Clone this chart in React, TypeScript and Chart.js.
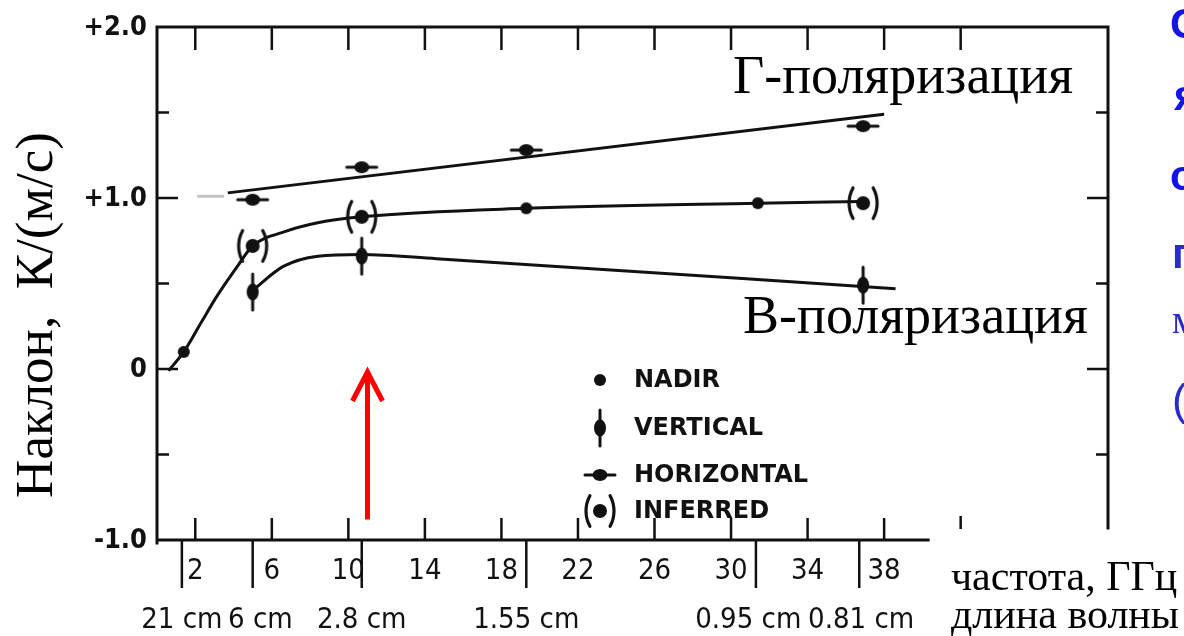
import React, { useEffect, useRef } from "react";
import { Chart, registerables } from "chart.js";

Chart.register(...registerables);

const W = 1184;
const H = 636;

// Axis ranges (frequency GHz, slope K/(m/s))
const X_MIN = 0;
const X_MAX = 49.7;
const Y_MIN = -1;
const Y_MAX = 2;

const yMajorTicks = [2, 1, 0, -1];
const yTickLabels = ["+2.0", "+1.0", "0", "-1.0"];
const yMinorTicks = [1.5, 0.5, -0.5];
const freqTicks = [2, 6, 10, 14, 18, 22, 26, 30, 34, 38];
const freqTickLabels = ["2", "6", "10", "14", "18", "22", "26", "30", "34", "38"];
const topExtraTicks = [42];
const waveFreqs = [1.3, 5.0, 10.7, 19.3, 31.3, 36.7];
const waveLabelFreqs = [1.3, 5.4, 10.7, 19.3, 30.9, 36.8];
const waveLabels = ["21 cm", "6 cm", "2.8 cm", "1.55 cm", "0.95 cm", "0.81 cm"];

// Fitted curves
const hLineX = [3.7, 38.0];
const hLineY = [1.03, 1.49];
const ghostX = [2.1, 3.5];
const ghostY = [1.01, 1.01];
const midCurveX = [0.6, 1.4, 2.3, 3.1, 4.2, 5.0, 6.6, 8.4, 10.7, 19.3, 31.4, 36.9];
const midCurveY = [-0.01, 0.1, 0.27, 0.42, 0.6, 0.72, 0.8, 0.855, 0.89, 0.94, 0.97, 0.98];
const vCurveX = [5.0, 6.6, 8.4, 10.7, 14.6, 38.6];
const vCurveY = [0.46, 0.6, 0.66, 0.67, 0.645, 0.47];

// Measured points
const nadirX = [1.4, 19.3, 31.4];
const nadirY = [0.1, 0.94, 0.97];
const vertX = [5.0, 10.7, 36.9];
const vertY = [0.45, 0.66, 0.49];
const horzX = [5.0, 10.7, 19.3, 36.9];
const horzY = [0.99, 1.18, 1.28, 1.42];
const infX = [5.0, 10.7, 36.9];
const infY = [0.72, 0.89, 0.97];

const legendNames = ["NADIR", "VERTICAL", "HORIZONTAL", "INFERRED"];
const legendKinds = ["nadir", "vertical", "horizontal", "inferred"];

// Red arrow (frequency, slope values)
const arrowX = 11.0;
const arrowFromY = -0.88;
const arrowToY = 0.0;

// Frame extents in data values
const frameRightEndY = -0.93;
const frameBottomEndX = 40.3;

const zip = (xs: number[], ys: number[]) => xs.map((v, i) => ({ x: v, y: ys[i] }));

function makeMarker(kind: string): HTMLCanvasElement {
  const c = document.createElement("canvas");
  const s = 40;
  c.width = s;
  c.height = s;
  const g = c.getContext("2d")!;
  g.translate(s / 2, s / 2);
  g.fillStyle = "#111";
  g.strokeStyle = "#111";
  g.lineCap = "round";
  if (kind === "nadir") {
    g.beginPath();
    g.arc(0, 0, 6, 0, Math.PI * 2);
    g.fill();
  } else if (kind === "vertical") {
    g.lineWidth = 3;
    g.beginPath();
    g.moveTo(0, -18);
    g.lineTo(0, 18);
    g.stroke();
    g.beginPath();
    g.ellipse(0, 0, 6, 8.5, 0, 0, Math.PI * 2);
    g.fill();
  } else if (kind === "horizontal") {
    g.lineWidth = 3;
    g.beginPath();
    g.moveTo(-15, 0);
    g.lineTo(15, 0);
    g.stroke();
    g.beginPath();
    g.ellipse(0, 0, 7.5, 6, 0, 0, Math.PI * 2);
    g.fill();
  } else if (kind === "inferred") {
    g.beginPath();
    g.arc(0, 0, 7, 0, Math.PI * 2);
    g.fill();
    g.lineWidth = 3.2;
    const a = 0.5;
    g.beginPath();
    g.arc(18, 0, 32, Math.PI - a, Math.PI + a);
    g.stroke();
    g.beginPath();
    g.arc(-18, 0, 32, -a, a);
    g.stroke();
  }
  return c;
}

const TICK_FONT = '29px "DejaVu Sans Condensed", "DejaVu Sans", sans-serif';
const YTICK_FONT = 'bold 27px "DejaVu Sans Condensed", "DejaVu Sans", sans-serif';
const LEGEND_FONT = 'bold 24px "DejaVu Sans", sans-serif';
const SERIF = '"Liberation Serif", "Times New Roman", serif';

export default function App() {
  const ref = useRef<HTMLCanvasElement | null>(null);

  useEffect(() => {
    const canvas = ref.current;
    if (!canvas) return;
    const markers: Record<string, HTMLCanvasElement> = {};
    legendKinds.forEach((k) => (markers[k] = makeMarker(k)));

    const decor = {
      id: "decor",
      beforeDatasetsDraw(chart: any) {
        const { ctx } = chart;
        const xs = chart.scales.x;
        const ys = chart.scales.y;
        const px = (v: number) => xs.getPixelForValue(v);
        const py = (v: number) => ys.getPixelForValue(v);
        ctx.save();
        ctx.strokeStyle = "#111";
        ctx.lineWidth = 3;
        ctx.lineCap = "square";
        // frame
        ctx.beginPath();
        ctx.moveTo(px(X_MIN), py(Y_MIN) + 3);
        ctx.lineTo(px(X_MIN), py(Y_MAX));
        ctx.lineTo(px(X_MAX), py(Y_MAX));
        ctx.lineTo(px(X_MAX), py(frameRightEndY));
        ctx.moveTo(px(X_MIN), py(Y_MIN));
        ctx.lineTo(px(frameBottomEndX), py(Y_MIN));
        ctx.stroke();

        ctx.lineCap = "butt";
        ctx.lineWidth = 2.5;
        ctx.beginPath();
        // left & right y ticks
        yMajorTicks.forEach((v) => {
          if (v === Y_MAX || v === Y_MIN) return;
          ctx.moveTo(px(X_MIN), py(v));
          ctx.lineTo(px(X_MIN) + 21, py(v));
          ctx.moveTo(px(X_MAX), py(v));
          ctx.lineTo(px(X_MAX) - 21, py(v));
        });
        yMinorTicks.forEach((v) => {
          ctx.moveTo(px(X_MIN), py(v));
          ctx.lineTo(px(X_MIN) + 12, py(v));
          ctx.moveTo(px(X_MAX), py(v));
          ctx.lineTo(px(X_MAX) - 12, py(v));
        });
        // top ticks
        [...freqTicks, ...topExtraTicks].forEach((f) => {
          ctx.moveTo(px(f), py(Y_MAX));
          ctx.lineTo(px(f), py(Y_MAX) + 23);
        });
        // bottom ticks
        freqTicks.forEach((f) => {
          ctx.moveTo(px(f), py(Y_MIN));
          ctx.lineTo(px(f), py(Y_MIN) - 22);
        });
        // stub of the next bottom tick
        topExtraTicks.forEach((f) => {
          ctx.moveTo(px(f), py(Y_MIN) - 24);
          ctx.lineTo(px(f), py(Y_MIN) - 11);
        });
        // wavelength markers
        waveFreqs.forEach((f) => {
          ctx.moveTo(px(f), py(Y_MIN));
          ctx.lineTo(px(f), py(Y_MIN) + 48);
        });
        ctx.stroke();
        ctx.restore();
      },
      afterDraw(chart: any) {
        const { ctx } = chart;
        const xs = chart.scales.x;
        const ys = chart.scales.y;
        const px = (v: number) => xs.getPixelForValue(v);
        const py = (v: number) => ys.getPixelForValue(v);
        ctx.save();
        ctx.fillStyle = "#111";
        // y tick labels
        ctx.font = YTICK_FONT;
        ctx.textAlign = "right";
        ctx.textBaseline = "middle";
        yMajorTicks.forEach((v, i) => ctx.fillText(yTickLabels[i], px(X_MIN) - 10, py(v) + 1));
        // x tick labels
        ctx.font = TICK_FONT;
        ctx.textAlign = "center";
        freqTicks.forEach((f, i) => ctx.fillText(freqTickLabels[i], px(f), py(Y_MIN) + 31));
        waveLabelFreqs.forEach((f, i) => ctx.fillText(waveLabels[i], px(f), py(Y_MIN) + 80));

        // legend
        const legX = 600;
        const legYs = [380, 428, 475, 511];
        ctx.font = LEGEND_FONT;
        ctx.textAlign = "left";
        legendKinds.forEach((k, i) => {
          const m = markers[k];
          ctx.drawImage(m, legX - m.width / 2, legYs[i] - m.height / 2);
          ctx.fillText(legendNames[i], 634, legYs[i] + 1);
        });

        // red arrow
        const ax = px(arrowX);
        const ay0 = py(arrowFromY);
        const ay1 = py(arrowToY);
        ctx.strokeStyle = "#ff0000";
        ctx.lineWidth = 5;
        ctx.lineCap = "butt";
        ctx.beginPath();
        ctx.moveTo(ax, ay0);
        ctx.lineTo(ax, ay1 + 3);
        ctx.stroke();
        ctx.lineJoin = "miter";
        ctx.beginPath();
        ctx.moveTo(ax - 15, ay1 + 32);
        ctx.lineTo(ax, ay1 + 3);
        ctx.lineTo(ax + 15, ay1 + 32);
        ctx.stroke();

        // annotations
        ctx.fillStyle = "#000";
        ctx.textBaseline = "alphabetic";
        ctx.textAlign = "left";
        ctx.font = `54px ${SERIF}`;
        ctx.fillText("Г-поляризация", 733, 93);
        ctx.fillText("В-поляризация", 743, 333);

        ctx.save();
        ctx.font = `53px ${SERIF}`;
        ctx.translate(52, 315);
        ctx.rotate(-Math.PI / 2);
        ctx.textAlign = "center";
        ctx.fillText("Наклон,  К/(м/с)", 0, 0);
        ctx.restore();

        ctx.font = `42px ${SERIF}`;
        ctx.fillText("частота, ГГц", 951, 590);
        ctx.fillText("длина волны", 951, 628);

        // cut-off blue text on the right edge
        ctx.fillStyle = "#1414e6";
        ctx.font = `bold 42px "Liberation Sans", Arial, sans-serif`;
        ctx.fillText("С", 1170, 38);
        ctx.fillText("я", 1174, 110);
        ctx.fillText("о", 1170, 190);
        ctx.fillStyle = "#2a2ad0";
        ctx.fillText("п", 1172, 268);
        ctx.font = `40px ${SERIF}`;
        ctx.fillText("м", 1172, 333);
        ctx.font = `44px "Liberation Sans", Arial, sans-serif`;
        ctx.fillText("(", 1172, 415);
        ctx.restore();
      },
    };

    const lineDs = (xs: number[], ys: number[], color: string, mono: boolean) => ({
      type: "line" as const,
      data: zip(xs, ys),
      borderColor: color,
      borderWidth: 3,
      pointRadius: 0,
      fill: false,
      cubicInterpolationMode: mono ? ("monotone" as const) : ("default" as const),
      tension: 0,
    });
    const markerDs = (xs: number[], ys: number[], kind: string) => ({
      type: "scatter" as const,
      data: zip(xs, ys),
      pointStyle: markers[kind],
      pointRadius: 8,
      showLine: false,
    });

    const chart = new Chart(canvas, {
      type: "scatter",
      data: {
        datasets: [
          lineDs(ghostX, ghostY, "#c4c4c4", false),
          lineDs(hLineX, hLineY, "#111", false),
          lineDs(midCurveX, midCurveY, "#111", true),
          lineDs(vCurveX, vCurveY, "#111", true),
          markerDs(nadirX, nadirY, "nadir"),
          markerDs(vertX, vertY, "vertical"),
          markerDs(horzX, horzY, "horizontal"),
          markerDs(infX, infY, "inferred"),
        ] as any,
      },
      options: {
        animation: false,
        responsive: false,
        devicePixelRatio: 1,
        events: [],
        layout: { padding: { left: 157, right: 76, top: 27, bottom: 96 } },
        plugins: { legend: { display: false }, tooltip: { enabled: false } },
        scales: {
          x: { type: "linear", min: X_MIN, max: X_MAX, display: false },
          y: { type: "linear", min: Y_MIN, max: Y_MAX, display: false },
        },
      },
      plugins: [decor],
    });
    return () => chart.destroy();
  }, []);

  return (
    <div style={{ position: "absolute", left: 0, top: 0, width: W, height: H, background: "#fff" }}>
      <canvas ref={ref} width={W} height={H} style={{ display: "block" }} />
    </div>
  );
}
